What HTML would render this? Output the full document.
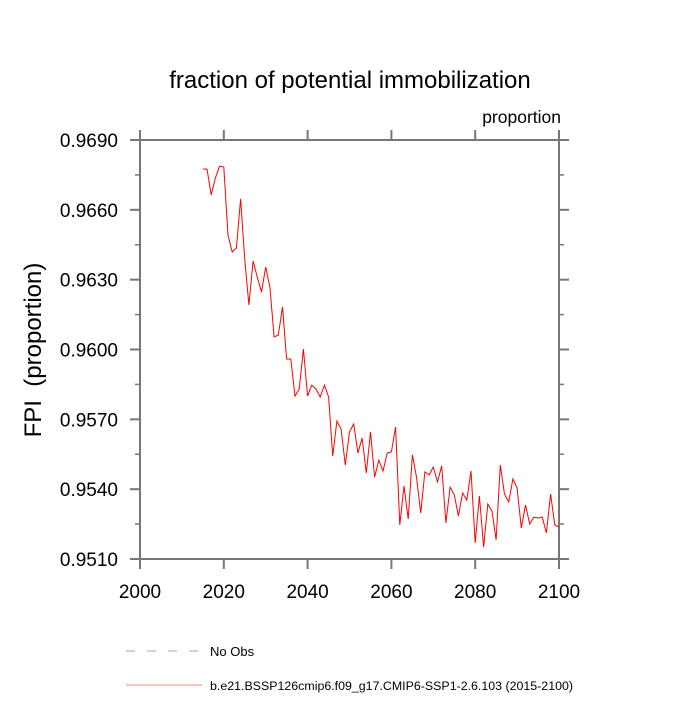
<!DOCTYPE html>
<html><head><meta charset="utf-8"><style>
body{margin:0;background:#fff;font-family:"Liberation Sans",sans-serif}
</style></head><body>
<svg id="chart" width="700" height="700" xmlns="http://www.w3.org/2000/svg" font-family="Liberation Sans, sans-serif">
<text x="350" y="88" font-size="24" text-anchor="middle">fraction of potential immobilization</text>
<text x="561" y="123" font-size="17.5" text-anchor="end">proportion</text>
<text transform="translate(41,350) rotate(-90)" font-size="24" text-anchor="middle" style="white-space:pre">FPI  (proportion)</text>
<g id="axes"></g>
<g id="series"></g>
<g>
<line x1="126" y1="651" x2="200" y2="651" stroke="#9999ff" stroke-width="1" stroke-dasharray="9,12"/>
<text x="210" y="656" font-size="13">No Obs</text>
<line x1="126" y1="685" x2="202" y2="685" stroke="#ff8080" stroke-width="1"/>
<text x="210" y="690" font-size="12.4">b.e21.BSSP126cmip6.f09_g17.CMIP6-SSP1-2.6.103 (2015-2100)</text>
</g>
</svg>
<script>
const xTicks=[2000,2020,2040,2060,2080,2100];
const yTicks=[0.9510,0.9540,0.9570,0.9600,0.9630,0.9660,0.9690];
const yTickLabels=["0.9510","0.9540","0.9570","0.9600","0.9630","0.9660","0.9690"];
const years=[];for(let y=2015;y<=2100;y++)years.push(y);
const fpi=[0.96775,0.96775,0.96664,0.96737,0.96788,0.96784,0.96492,0.96419,0.96436,0.96647,
0.96384,0.96191,0.96380,0.96311,0.96247,0.96354,0.96268,0.96054,0.96062,0.96183,
0.95959,0.95959,0.95800,0.95830,0.96002,0.95800,0.95847,0.95830,0.95796,0.95847,
0.95796,0.95542,0.95693,0.95658,0.95504,0.95646,0.95680,0.95555,0.95620,0.95469,
0.95646,0.95452,0.95525,0.95478,0.95555,0.95560,0.95667,0.95246,0.95414,0.95272,
0.95547,0.95452,0.95298,0.95474,0.95461,0.95495,0.95431,0.95500,0.95255,0.95409,
0.95375,0.95285,0.95384,0.95353,0.95478,0.95169,0.95371,0.95152,0.95336,0.95306,
0.95182,0.95504,0.95379,0.95345,0.95444,0.95405,0.95233,0.95332,0.95250,0.95280,
0.95276,0.95280,0.95212,0.95379,0.95246,0.95237];
const X0=140,X1=559,Y0=559,Y1=140;
const xs=v=>X0+(v-2000)/100*(X1-X0);
const ys=v=>Y0-(v-0.9510)/0.0180*(Y0-Y1);
const NS="http://www.w3.org/2000/svg";
const axes=document.getElementById('axes');
function mk(tag,attrs,parent){const e=document.createElementNS(NS,tag);for(const k in attrs)e.setAttribute(k,attrs[k]);parent.appendChild(e);return e;}
const frame=mk('rect',{x:X0,y:Y1,width:X1-X0,height:Y0-Y1,fill:'none',stroke:'#777','stroke-width':2},axes);


xTicks.forEach(t=>{
  const x=xs(t);
  const b=mk('line',{x1:x,y1:Y0,x2:x,y2:Y0+10,stroke:'#777','stroke-width':2},axes);
  
  
  const tp=mk('line',{x1:x,y1:Y1,x2:x,y2:Y1-10,stroke:'#777','stroke-width':2},axes);
  
  
  const l=mk('text',{x:x,y:Y0+39,'font-size':19,'text-anchor':'middle'},axes);
  l.textContent=t;
  
  
});
yTicks.forEach((t,i)=>{
  const y=ys(t);
  [[X0,X0-10],[X1,X1+10]].forEach(p=>{
    const m=mk('line',{x1:p[0],y1:y,x2:p[1],y2:y,stroke:'#777','stroke-width':2},axes);
    
    
  });
  if(i<yTicks.length-1){
    const ym=ys(t+0.0015);
    [[X0,X0-5],[X1,X1+5]].forEach(p=>{
      const m=mk('line',{x1:p[0],y1:ym,x2:p[1],y2:ym,stroke:'#777','stroke-width':1.5},axes);
      
      
    });
  }
  const l=mk('text',{x:X0-22,y:y+7,'font-size':19,'text-anchor':'end'},axes);
  l.textContent=yTickLabels[i];
  
  
});
const pts=years.map((yr,i)=>xs(yr).toFixed(1)+','+ys(fpi[i]).toFixed(1)).join(' ');
const line=mk('polyline',{points:pts,fill:'none',stroke:'#ff0000','stroke-width':1},document.getElementById('series'));


</script>
</body></html>
